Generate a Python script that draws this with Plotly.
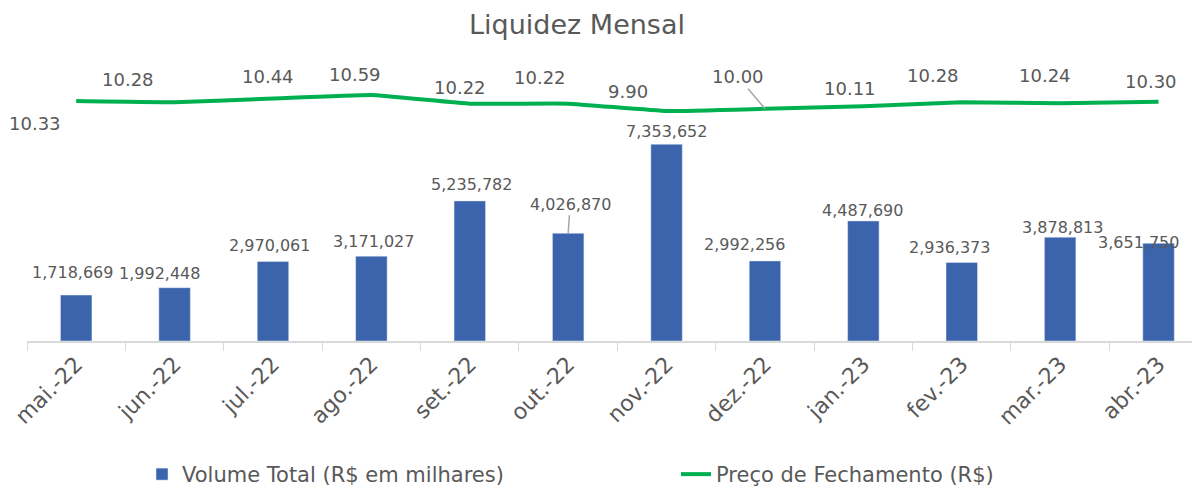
import plotly.graph_objects as go

months = ["mai.-22", "jun.-22", "jul.-22", "ago.-22", "set.-22", "out.-22",
          "nov.-22", "dez.-22", "jan.-23", "fev.-23", "mar.-23", "abr.-23"]
volume = [1718669, 1992448, 2970061, 3171027, 5235782, 4026870,
          7353652, 2992256, 4487690, 2936373, 3878813, 3651750]
price = [10.33, 10.28, 10.44, 10.59, 10.22, 10.22,
         9.90, 10.00, 10.11, 10.28, 10.24, 10.30]

# label offsets in pixels (dragged labels in the original)
vol_dx = [-4, -15, -3, 2, 2, 2, 0, -20, -1, -12, 2, -20]
vol_dy = [23, 14, 16, 15, 16, 29, 13, 16, 10, 15, 10, 1]
price_dx = [-41, -47, -5, -16, -10, -28, -39, -27, -13, -29, -15, -8]
price_dy = [-22, 23, 22, 21, 16, 26, 20, 32, 18, 27, 28, 20]

GREY_TXT = "#595959"
FONT = "DejaVu Sans"

# page body has an 8px margin, so the figure is sized to fit inside the window
W, H = 1184, 478

fig = go.Figure()
fig.add_trace(go.Bar(
    x=months, y=volume,
    name="Volume Total (R$ em milhares)",
    marker=dict(color="#3C64AC"),
    width=0.32,
))
fig.add_trace(go.Scatter(
    x=months, y=price,
    name="Preço de Fechamento (R$)",
    mode="lines",
    line=dict(color="#00B050", width=4, shape="spline", smoothing=0.3),
    yaxis="y2",
))

annotations = []
for i, m in enumerate(months):
    if m == "out.-22":
        annotations.append(dict(
            x=m, y=volume[i], xref="x", yref="y",
            text=f"{volume[i]:,}", showarrow=True, arrowhead=0,
            arrowcolor="#A6A6A6", arrowwidth=1.5, ax=vol_dx[i], ay=-vol_dy[i],
            font=dict(size=16, color=GREY_TXT, family=FONT)))
    else:
        annotations.append(dict(
            x=m, y=volume[i], xref="x", yref="y",
            text=f"{volume[i]:,}", showarrow=False,
            xshift=vol_dx[i], yshift=vol_dy[i],
            font=dict(size=16, color=GREY_TXT, family=FONT)))
    if m == "dez.-22":
        annotations.append(dict(
            x=m, y=price[i], xref="x", yref="y2",
            text=f"{price[i]:.2f}", showarrow=True, arrowhead=0,
            arrowcolor="#A6A6A6", arrowwidth=1.5, ax=price_dx[i], ay=-price_dy[i],
            font=dict(size=18, color=GREY_TXT, family=FONT)))
    else:
        annotations.append(dict(
            x=m, y=price[i], xref="x", yref="y2",
            text=f"{price[i]:.2f}", showarrow=False,
            xshift=price_dx[i], yshift=price_dy[i],
            font=dict(size=18, color=GREY_TXT, family=FONT)))

fig.update_layout(
    title=dict(text="Liquidez Mensal", x=(577 - 8) / W, xanchor="center",
               y=1 - 17 / H, yref="container", yanchor="middle",
               font=dict(size=27, color=GREY_TXT, family=FONT)),
    width=W, height=H,
    margin=dict(l=19, r=0, t=52, b=145, pad=0, autoexpand=False),
    paper_bgcolor="white", plot_bgcolor="white",
    font=dict(family=FONT, color=GREY_TXT),
    showlegend=True,
    legend=dict(orientation="h", x=(134 - 19) / 1165, xanchor="left",
                y=-0.475, yanchor="middle",
                font=dict(size=21, color=GREY_TXT, family=FONT),
                entrywidth=489, itemwidth=30),
    annotations=annotations,
)
fig.update_xaxes(
    range=[-0.5, 11.34],
    automargin=False,
    tickangle=-45,
    tickfont=dict(size=22, color=GREY_TXT, family=FONT),
    showline=True, linecolor="#D9D9D9", linewidth=1.5,
    ticks="outside", tickson="boundaries", ticklen=8, tickcolor="#D9D9D9",
    showgrid=False,
)
fig.update_layout(
    yaxis=dict(range=[0, 10.5e6], visible=False, showgrid=False, automargin=False),
    yaxis2=dict(range=[0, 12.1], overlaying="y", side="right",
                visible=False, showgrid=False, automargin=False),
)

fig.write_html("out.html")
